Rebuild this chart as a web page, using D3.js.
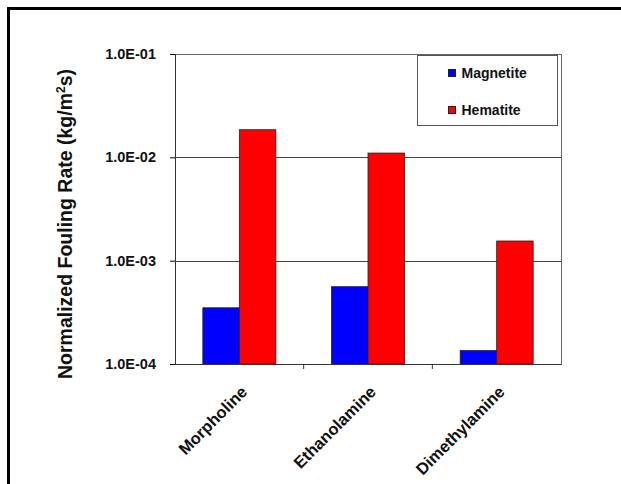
<!DOCTYPE html>
<html>
<head>
<meta charset="utf-8">
<script src="https://cdn.jsdelivr.net/npm/d3@7"></script>
<style>
  html, body { margin: 0; background: #fff; overflow: hidden; }
  svg { display: block; }
  text { font-family: "Liberation Sans", Arial, sans-serif; font-weight: bold; fill: #111; }
</style>
</head>
<body>
<script>
// chart data
const categories = ["Morpholine", "Ethanolamine", "Dimethylamine"];
const seriesNames = ["Magnetite", "Hematite"];
const magnetite = [3.5e-4, 5.6e-4, 1.35e-4];
const hematite = [1.85e-2, 1.1e-2, 1.55e-3];
const tickValues = [1e-4, 1e-3, 1e-2, 1e-1];
const tickLabels = ["1.0E-04", "1.0E-03", "1.0E-02", "1.0E-01"];
const colors = ["#0000ff", "#ff0000"];

const W = 621, H = 484;
const svg = d3.select("body").append("svg")
    .attr("width", W)
    .attr("height", H);

// outer frame
svg.append("rect")
    .attr("x", 8.5).attr("y", 8.5)
    .attr("width", 640).attr("height", 500)
    .attr("fill", "none")
    .attr("stroke", "#000")
    .attr("stroke-width", 3);

const margin = {left: 175, top: 54, right: 60, bottom: 120};
const width = W - margin.left - margin.right,
      height = H - margin.top - margin.bottom;

const g = svg.append("g")
    .attr("transform", "translate(" + margin.left + "," + margin.top + ")");

const x0 = d3.scaleBand().domain(categories).range([0, width]).paddingInner(0).paddingOuter(0);
const x1 = d3.scaleBand().domain(seriesNames).range([0, 73]);
const y = d3.scaleLog().domain([1e-4, 1e-1]).range([height, 0]);

// gridlines
g.selectAll(".grid")
    .data(tickValues.slice(1))
    .enter().append("line")
    .attr("x1", 0).attr("x2", width)
    .attr("y1", d => Math.round(y(d)) + 0.5)
    .attr("y2", d => Math.round(y(d)) + 0.5)
    .attr("stroke", "#444")
    .attr("stroke-width", 1);

// plot frame
g.append("rect")
    .attr("x", 0.5).attr("y", 0.5)
    .attr("width", width).attr("height", height)
    .attr("fill", "none")
    .attr("stroke", "#666");

// bars
const data = categories.map((c, i) => ({cat: c, vals: [magnetite[i], hematite[i]]}));
const groups = g.selectAll(".grp")
    .data(data)
    .enter().append("g")
    .attr("transform", d => "translate(" + (x0(d.cat) + (x0.bandwidth() - 73) / 2) + ",0)");

groups.selectAll("rect")
    .data(d => d.vals.map((v, j) => ({name: seriesNames[j], v: v, j: j})))
    .enter().append("rect")
    .attr("x", d => x1(d.name))
    .attr("y", d => y(d.v))
    .attr("width", x1.bandwidth())
    .attr("height", d => height - y(d.v))
    .attr("fill", d => colors[d.j])
    .attr("stroke", "#222")
    .attr("stroke-width", 0.8);

// y axis
const yAxis = g.append("g")
    .call(d3.axisLeft(y).tickValues(tickValues).tickFormat((d, i) => tickLabels[i]).tickSize(5).tickPadding(14));
yAxis.select(".domain").attr("stroke", "#333");
yAxis.selectAll("text").style("font-size", "14.5px").attr("fill", "#111");

// x axis
const xAxis = g.append("g")
    .attr("transform", "translate(0," + height + ")")
    .call(d3.axisBottom(x0).tickSize(0).tickFormat(""));
xAxis.select(".domain").attr("stroke", "#333");
g.selectAll(".xtick")
    .data(categories.slice(1))
    .enter().append("line")
    .attr("x1", d => x0(d)).attr("x2", d => x0(d))
    .attr("y1", height).attr("y2", height + 5)
    .attr("stroke", "#333");

g.selectAll(".xlab")
    .data(categories)
    .enter().append("text")
    .attr("transform", d => "translate(" + (x0(d) + x0.bandwidth() / 2 + 9) + "," + (height + 29) + ") rotate(-45)")
    .attr("text-anchor", "end")
    .style("font-size", "16.5px")
    .text(d => d);

// y axis title
svg.append("text")
    .attr("transform", "translate(72,224) rotate(-90)")
    .attr("text-anchor", "middle")
    .style("font-size", "19.5px")
    .html("Normalized Fouling Rate (kg/m<tspan baseline-shift='super' font-size='12px'>2</tspan>s)");

// legend
const lg = svg.append("g").attr("transform", "translate(417.5,55.5)");
lg.append("rect")
    .attr("width", 140).attr("height", 70)
    .attr("fill", "#fff")
    .attr("stroke", "#555");
seriesNames.forEach((s, i) => {
    const row = lg.append("g").attr("transform", "translate(31," + (22 + i * 37) + ")");
    row.append("rect")
        .attr("x", 0).attr("y", -8)
        .attr("width", 7).attr("height", 7)
        .attr("fill", colors[i])
        .attr("stroke", "#222");
    row.append("text")
        .attr("x", 13).attr("y", 0)
        .style("font-size", "14px")
        .text(s);
});
</script>
</body>
</html>
